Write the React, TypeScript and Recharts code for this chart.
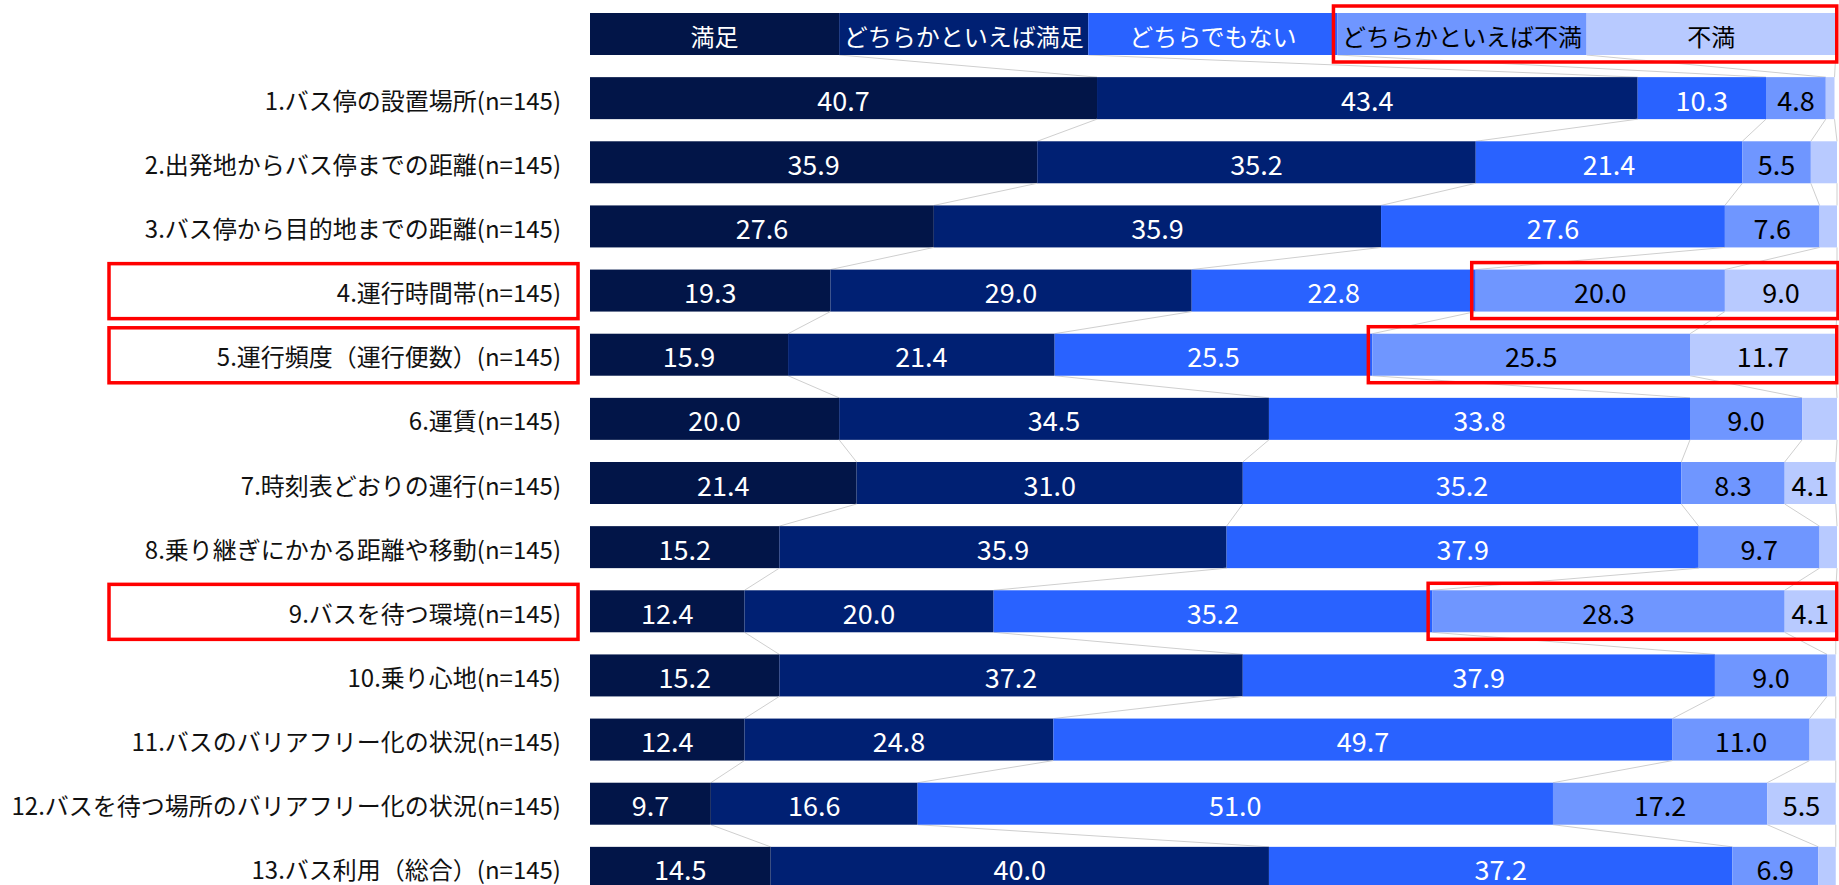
import { Bar, BarChart, XAxis, YAxis } from "recharts";

const CATEGORIES = [
  "1.バス停の設置場所(n=145)",
  "2.出発地からバス停までの距離(n=145)",
  "3.バス停から目的地までの距離(n=145)",
  "4.運行時間帯(n=145)",
  "5.運行頻度（運行便数）(n=145)",
  "6.運賃(n=145)",
  "7.時刻表どおりの運行(n=145)",
  "8.乗り継ぎにかかる距離や移動(n=145)",
  "9.バスを待つ環境(n=145)",
  "10.乗り心地(n=145)",
  "11.バスのバリアフリー化の状況(n=145)",
  "12.バスを待つ場所のバリアフリー化の状況(n=145)",
  "13.バス利用（総合）(n=145)",
];

const SERIES = ["満足", "どちらかといえば満足", "どちらでもない", "どちらかといえば不満", "不満"];

const SATISFIED = [40.7, 35.9, 27.6, 19.3, 15.9, 20.0, 21.4, 15.2, 12.4, 15.2, 12.4, 9.7, 14.5];
const RATHER_SATISFIED = [43.4, 35.2, 35.9, 29.0, 21.4, 34.5, 31.0, 35.9, 20.0, 37.2, 24.8, 16.6, 40.0];
const NEUTRAL = [10.3, 21.4, 27.6, 22.8, 25.5, 33.8, 35.2, 37.9, 35.2, 37.9, 49.7, 51.0, 37.2];
const RATHER_DISSATISFIED = [4.8, 5.5, 7.6, 20.0, 25.5, 9.0, 8.3, 9.7, 28.3, 9.0, 11.0, 17.2, 6.9];
const DISSATISFIED = [0.7, 2.1, 1.4, 9.0, 11.7, 2.8, 4.1, 1.4, 4.1, 0.7, 2.1, 5.5, 1.4];

// the header bar works as the legend: five equal parts
const LEGEND_SHARE = [20, 20, 20, 20, 20];

// rows framed in red (header row included)
const HIGHLIGHTED = ["", "4.運行時間帯(n=145)", "5.運行頻度（運行便数）(n=145)", "9.バスを待つ環境(n=145)"];

const COLORS = ["#021548", "#002073", "#2962FF", "#6F96FF", "#B8CAFF"];
const TEXT_COLORS = ["#ffffff", "#ffffff", "#ffffff", "#000000", "#000000"];
const KEYS = ["s0", "s1", "s2", "s3", "s4"];
const SOURCES = [SATISFIED, RATHER_SATISFIED, NEUTRAL, RATHER_DISSATISFIED, DISSATISFIED];

const table = [
  { name: "", header: true, ...Object.fromEntries(KEYS.map((k, i) => [k, LEGEND_SHARE[i]])) },
  ...CATEGORIES.map((name, r) => ({
    name,
    header: false,
    ...Object.fromEntries(KEYS.map((k, i) => [k, SOURCES[i][r]])),
  })),
];

const WIDTH = 1839;
const HEIGHT = 900;
const MARGIN = { top: 2, right: 2, left: 0, bottom: 0 };
const BAND = (HEIGHT - MARGIN.top - MARGIN.bottom) / table.length;
const FONT = '"Noto Sans CJK JP", "Noto Sans", sans-serif';
const RED = "#FF0000";

function cum(row: any, upto: number) {
  let s = 0;
  for (let i = 0; i < upto; i++) s += row[KEYS[i]];
  return s;
}

function makeShape(k: number) {
  return (props: any) => {
    const { x, y, width, height, payload, index } = props;
    const v = payload[KEYS[k]];
    const scale = v > 0 ? width / v : 0;
    const x0 = x - cum(payload, k) * scale;
    const next = table[index + 1];
    const text = payload.header ? SERIES[k] : v >= 3 ? v.toFixed(1) : "";
    const highlighted = k === 4 && HIGHLIGHTED.includes(payload.name);
    const boxLeft = x - payload[KEYS[3]] * scale;
    return (
      <g>
        <rect x={x} y={y} width={width} height={height} fill={COLORS[k]} />
        {next && (
          <line
            x1={x + width}
            y1={y + height}
            x2={x0 + cum(next, k + 1) * scale}
            y2={y + BAND}
            stroke="#cfcfcf"
            strokeWidth={1}
          />
        )}
        {text && (
          <text
            x={x + width / 2}
            y={y + height / 2 + 1}
            textAnchor="middle"
            dominantBaseline="central"
            fontSize={payload.header ? 24 : 27}
            fontFamily={FONT}
            fill={TEXT_COLORS[k]}
          >
            {text}
          </text>
        )}
        {highlighted && (
          <rect
            x={boxLeft - 4}
            y={y - 7}
            width={x + width - boxLeft + 5}
            height={height + 14}
            fill="none"
            stroke={RED}
            strokeWidth={3.5}
          />
        )}
      </g>
    );
  };
}

function CategoryTick(props: any) {
  const { x, y, payload } = props;
  const label = payload.value;
  return (
    <g>
      {label && HIGHLIGHTED.includes(label) && (
        <rect x={x - 452} y={y - 27} width={469} height={55} fill="none" stroke={RED} strokeWidth={3.5} />
      )}
      <text x={x} y={y + 1} textAnchor="end" dominantBaseline="central" fontSize={24} fontFamily={FONT} fill="#111">
        {label}
      </text>
    </g>
  );
}

export default function App() {
  return (
    <div
      style={{
        position: "absolute",
        left: 0,
        top: 0,
        width: WIDTH,
        height: 885,
        overflow: "hidden",
        background: "#fff",
      }}
    >
      <BarChart width={WIDTH} height={HEIGHT} data={table} layout="vertical" margin={MARGIN} barSize={42}>
        <XAxis type="number" domain={[0, 100]} hide />
        <YAxis
          type="category"
          dataKey="name"
          width={590}
          axisLine={false}
          tickLine={false}
          tickSize={0}
          tickMargin={29}
          interval={0}
          tick={<CategoryTick />}
        />
        {KEYS.map((key, k) => (
          <Bar key={key} dataKey={key} stackId="a" shape={makeShape(k)} isAnimationActive={false} />
        ))}
      </BarChart>
    </div>
  );
}
